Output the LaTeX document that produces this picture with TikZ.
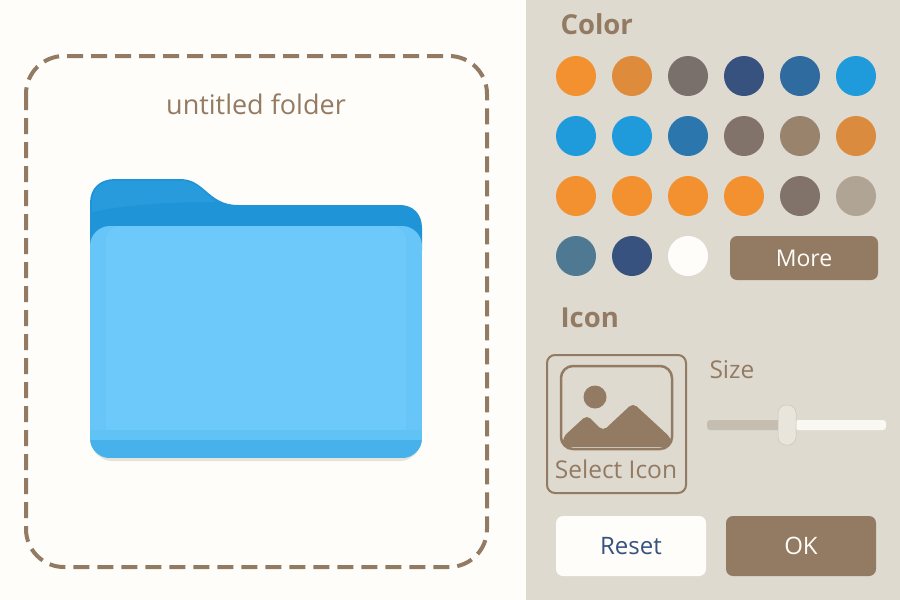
\documentclass[tikz,border=0pt]{standalone}
\usepackage{fontspec}
\setmainfont{Open Sans}

\definecolor{pagewhite}{HTML}{FEFDF9}
\definecolor{panelgray}{HTML}{DEDAD0}
\definecolor{umber}{HTML}{937B63}
\definecolor{amber}{HTML}{F39130}
\definecolor{azure}{HTML}{1F9ADB}
\definecolor{navy}{HTML}{37527F}
\definecolor{sand}{HTML}{B0A594}
\definecolor{folderdark}{HTML}{1F95D8}
\definecolor{folderlight}{HTML}{6DC9FA}

\tikzset{
  swatch/.style={circle,draw=none,minimum size=40pt,inner sep=0pt},
  header/.style={text=umber,font=\fontsize{27.5}{30}\selectfont\bfseries},
  label/.style={text=umber,font=\fontsize{24.5}{28}\selectfont},
  btn/.style={rectangle,rounded corners=7pt,draw=none,inner sep=0pt,
              font=\fontsize{24}{28}\selectfont},
}

\begin{document}
\begin{tikzpicture}[x=1pt,y=-1pt]
  \useasboundingbox (0,0) rectangle (900,600);

  % --- Backgrounds ---
  \path[fill=pagewhite] (0,0) rectangle (526,600);
  \path[fill=panelgray] (526,0) rectangle (900,600);

  % --- Drop area ---
  \draw[umber,line width=4pt,dash pattern=on 16pt off 8pt,rounded corners=38pt]
       (26,56) rectangle (487,567);
  \node[label,font=\fontsize{27}{30}\selectfont] (foldername) at (256,104) {untitled folder};

  % --- Folder shadow ---
  \path[fill=panelgray!75!pagewhite,rounded corners=20pt] (92,300) rectangle (420,461);

  % --- Folder back ---
  \path[fill=folderdark]
       (90,250) -- (90,203) .. controls (90,188) and (100,179) .. (115,179)
       -- (180,179) .. controls (205,179) and (208,205) .. (238,205)
       -- (400,205) .. controls (413,205) and (422,214) .. (422,228)
       -- (422,250) -- cycle;
  \path[fill=folderdark!88!folderlight]
       (92,212) -- (92,203) .. controls (92,189) and (101,181) .. (115,181)
       -- (180,181) .. controls (197,181) and (204,193) .. (216,202)
       .. controls (170,202) and (130,204) .. (92,212) -- cycle;

  % --- Folder front ---
  \begin{scope}
    \path[clip,rounded corners=20pt] (90,226) rectangle (422,458);
    \path[fill=folderlight!92!azure] (90,226) rectangle (422,458);
    \path[fill=folderlight,rounded corners=14pt] (106,226) rectangle (406,445);
    \path[fill=folderlight] (125,226) rectangle (387,430);
    \path[fill=folderlight!85!azure] (90,430) rectangle (422,440);
    \path[fill=folderlight!50!azure] (90,440) rectangle (422,458);
  \end{scope}

  % --- Colour header ---
  \node[header,anchor=west] (colorhead) at (557,24) {Color};

  % --- Swatches: column/row/colour ---
  \foreach \col/\row/\shade in {
      0/0/amber, 1/0/amber!78!umber, 2/0/umber!72!navy, 3/0/navy, 4/0/navy!65!azure, 5/0/azure,
      0/1/azure, 1/1/azure, 2/1/navy!50!azure, 3/1/umber!80!navy, 4/1/umber!92!panelgray, 5/1/amber!75!umber,
      0/2/amber, 1/2/amber, 2/2/amber, 3/2/amber, 4/2/umber!80!navy, 5/2/sand,
      0/3/navy!50!azure!65!umber, 1/3/navy, 2/3/pagewhite} {
    \node[swatch,fill=\shade] (swatch\col\row) at ({576+56*\col},{76+60*\row}) {};
  }

  % --- More button ---
  \node[btn,fill=umber,text=pagewhite,minimum width=148pt,minimum height=44pt,
        font=\fontsize{23}{28}\selectfont]
       (morebtn) at (804,258) {More};

  % --- Icon header ---
  \node[header,anchor=west] (iconhead) at (557,318) {Icon};

  % --- Icon picker ---
  \draw[umber,line width=2pt,rounded corners=8pt] (547,355) rectangle (686,493);
  \draw[umber,line width=2.5pt,rounded corners=12pt] (561,366) rectangle (672,449);
  \path[fill=umber] (595,397) circle (11.5);
  \path[fill=umber,rounded corners=5pt]
       (563,447) -- (563,437) -- (587,415) -- (603,431) -- (633,403) -- (671,438) -- (671,447) -- cycle;
  \node[label,font=\fontsize{24.5}{28}\selectfont] (selecticon) at (616,469) {Select Icon};

  % --- Size slider ---
  \node[label,anchor=west] (sizelabel) at (706,370) {Size};
  \path[fill=sand!55!panelgray,rounded corners=3pt] (707,420) rectangle (780,430);
  \path[fill=pagewhite!85!panelgray,rounded corners=3pt] (795,420) rectangle (886,430);
  \path[fill=panelgray!70!pagewhite,draw=sand!40!panelgray,line width=0.5pt,rounded corners=8pt]
       (778,405) rectangle (796,445);

  % --- Buttons ---
  \node[btn,fill=pagewhite,text=navy,minimum width=150pt,minimum height=60pt]
       (resetbtn) at (631,546) {Reset};
  \node[btn,fill=umber,text=pagewhite,minimum width=150pt,minimum height=60pt]
       (okbtn) at (801,546) {OK};
\end{tikzpicture}
\end{document}
